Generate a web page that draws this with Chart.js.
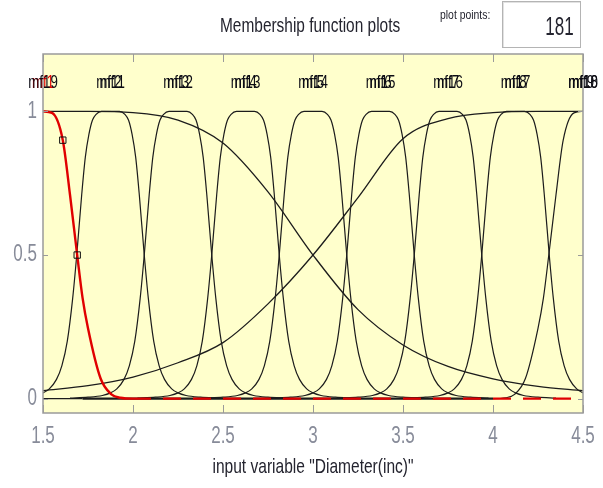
<!DOCTYPE html>
<html>
<head>
<meta charset="utf-8">
<script src="https://cdn.jsdelivr.net/npm/chart.js@4.4.1/dist/chart.umd.min.js"></script>
<style>
  html, body { margin: 0; padding: 0; background: #fff; }
  #wrap { position: relative; width: 603px; height: 488px; overflow: hidden; }
  #mfChart { position: absolute; left: 0; top: 0; }
  .hdr {
    position: absolute;
    font-family: 'Liberation Sans', Arial, sans-serif;
    color: #24242f;
    white-space: nowrap;
    transform-origin: left center;
  }
  /* the source picture is squeezed sideways, so the text is too */
  #title   { left: 220px; top: 12px; font-size: 21px; line-height: 26px; transform: scaleX(0.735); }
  #ppLabel { left: 440px; top: 7px;  font-size: 13px; line-height: 16px; transform: scaleX(0.8); }
  #ppBox {
    position: absolute; left: 502px; top: 1px; width: 79px; height: 47px; box-sizing: border-box;
    border: 1px solid #b4b4b4; box-shadow: inset 1px 1px 0 #e2e2e2; background: #fff;
  }
  #ppVal {
    right: 6px; top: 9px; font-size: 25px; line-height: 30px;
    transform-origin: right center; transform: scaleX(0.68);
  }
</style>
</head>
<body>
<div id="wrap">
  <canvas id="mfChart" width="603" height="488"></canvas>
  <div class="hdr" id="title">Membership function plots</div>
  <div class="hdr" id="ppLabel">plot points:</div>
  <div id="ppBox"><span class="hdr" id="ppVal">181</span></div>
</div>
<script>
/* ── axes ── */
const X_MIN = 1.5, X_MAX = 4.5;
const Y_MIN = -0.05, Y_MAX = 1.2;
const xTickValues = [1.5, 2, 2.5, 3, 3.5, 4, 4.5];
const xTickLabels = ['1.5', '2', '2.5', '3', '3.5', '4', '4.5'];
const yTickValues = [0, 0.5, 1];
const yTickLabels = ['0', '0.5', '1'];
const xTitle = 'input variable "Diameter(inc)"';

/* ── mf names written across the top (several sit on one spot) ── */
const mfLabelText = ['mf1', 'mf19', 'mf2', 'mf11', 'mf3', 'mf12', 'mf4', 'mf13', 'mf5', 'mf14',
                     'mf6', 'mf15', 'mf7', 'mf16', 'mf8', 'mf17', 'mf9', 'mf18', 'mf10'];
const mfLabelX    = [1.5, 1.5, 1.875, 1.875, 2.25, 2.25, 2.625, 2.625, 3, 3,
                     3.375, 3.375, 3.75, 3.75, 4.125, 4.125, 4.5, 4.5, 4.5];
const selectedMf  = 'mf1';

/* ── bell-shaped mfs: one profile, repeated at each centre ── */
const bellCenters = [1.875, 2.25, 2.625, 3, 3.375, 3.75, 4.125];
const bellDx = [-0.6, -0.5, -0.42, -0.375, -0.34, -0.3, -0.27, -0.24, -0.21, -0.1875, -0.16, -0.14,
                -0.12, -0.1, -0.08, -0.05, 0, 0.05, 0.08, 0.1, 0.12, 0.14, 0.16, 0.1875, 0.21, 0.24,
                0.27, 0.3, 0.34, 0.375, 0.42, 0.5, 0.6];
const bellMu = [0.002, 0.005, 0.011, 0.02, 0.034, 0.067, 0.115, 0.2, 0.35, 0.5, 0.71, 0.84,
                0.92, 0.97, 0.99, 1, 1, 1, 0.99, 0.97, 0.92, 0.84, 0.71, 0.5, 0.35, 0.2,
                0.115, 0.067, 0.034, 0.02, 0.011, 0.005, 0.002];

/* ── wide curves spanning the whole range ── */
const wideX     = [1.5, 1.75, 2, 2.25, 2.5, 2.75, 3, 3.25, 3.5, 3.75, 4, 4.25, 4.5];
const wideFall  = [1, 1, 0.996, 0.97, 0.89, 0.72, 0.5, 0.31, 0.187, 0.112, 0.069, 0.043, 0.028];
const wideRise  = [0.028, 0.045, 0.075, 0.125, 0.195, 0.33, 0.5, 0.7, 0.905, 0.975, 0.996, 1, 1];

/* ── selected z-shaped mf (red) and its s-shaped mirror ── */
const zX  = [1.5, 1.55, 1.61, 1.65, 1.69, 1.72, 1.75, 1.82, 1.88, 1.93, 2.0, 4.5];
const zMu = [1, 0.995, 0.9, 0.71, 0.5, 0.35, 0.245, 0.07, 0.015, 0.003, 0, 0];
const sX  = [1.5, 1.72, 4.0, 4.07, 4.12, 4.18, 4.25, 4.28, 4.31, 4.35, 4.39, 4.45, 4.5];
const sMu = [0, 0, 0, 0.003, 0.015, 0.07, 0.245, 0.35, 0.5, 0.71, 0.9, 0.995, 1];

/* ── handles of the selected mf ── */
const handleX = [1.61, 1.69];
const handleY = [0.9, 0.5];

const FONT = "'Liberation Sans', Arial, sans-serif";
const SQUEEZE = 0.74;
const LINE = '#1c1c1c';
const RED  = '#e00000';
const AXIS_GREY = '#9a9a9a';
const TICK_TEXT = '#878b99';
const TEXT = '#24242f';

const pts = (xs, ys) => xs.map((x, i) => ({ x, y: ys[i] }));
const isFlatZero = ctx => ctx.p0.parsed.y === 0 && ctx.p1.parsed.y === 0;

function buildDatasets() {
  const ds = [];

  ds.push({
    label: 'handles', type: 'scatter',
    data: pts(handleX, handleY),
    pointStyle: 'rect', pointRadius: 4.5, pointBorderWidth: 1,
    pointBorderColor: '#111', pointBackgroundColor: 'transparent',
    order: 0,
  });

  // selected mf on top; its zero tail shows through as red dashes
  ds.push({
    label: 'mf1',
    data: pts(zX, zMu),
    borderColor: RED, borderWidth: 2.4,
    cubicInterpolationMode: 'monotone',
    segment: { borderDash: ctx => isFlatZero(ctx) ? [18, 12] : undefined },
    order: 1,
  });

  bellCenters.forEach((c, k) => {
    ds.push({
      label: 'mf' + (k + 2),
      data: bellDx.map((d, i) => ({ x: c + d, y: bellMu[i] })),
      borderColor: LINE, borderWidth: 1.2,
      cubicInterpolationMode: 'monotone',
      order: 2,
    });
  });

  ds.push({
    label: 'mf19', data: pts(wideX, wideFall),
    borderColor: LINE, borderWidth: 1.3, cubicInterpolationMode: 'monotone', order: 3,
  });
  ds.push({
    label: 'mf10', data: pts(wideX, wideRise),
    borderColor: LINE, borderWidth: 1.3, cubicInterpolationMode: 'monotone', order: 3,
  });

  // s-shaped mf; its long zero run is where several mfs pile up, so draw it heavier
  ds.push({
    label: 'mf9', data: pts(sX, sMu),
    borderColor: LINE, borderWidth: 1.2,
    cubicInterpolationMode: 'monotone',
    segment: { borderWidth: ctx => isFlatZero(ctx) && ctx.p0.parsed.x >= 1.7 ? 2.4 : undefined },
    order: 4,
  });

  return ds;
}

function squeezedText(ctx, text, x, y, size, color, align) {
  ctx.save();
  ctx.font = size + 'px ' + FONT;
  ctx.fillStyle = color;
  ctx.textAlign = align;
  ctx.textBaseline = 'middle';
  ctx.translate(x, y);
  ctx.scale(SQUEEZE, 1);
  ctx.fillText(text, 0, 0);
  ctx.restore();
}

/* ── MATLAB-ish frame: yellow axes, grey box, inward ticks, labels ── */
const framePlugin = {
  id: 'frame',
  beforeDraw(chart) {
    const { ctx, chartArea: a } = chart;
    ctx.save();
    ctx.fillStyle = '#ffffcc';
    ctx.fillRect(a.left, a.top, a.right - a.left, a.bottom - a.top);
    ctx.restore();
  },
  afterDatasetsDraw(chart) {
    const { ctx, chartArea: a, scales: { x, y } } = chart;
    ctx.save();
    ctx.strokeStyle = AXIS_GREY;
    ctx.lineWidth = 1;
    ctx.beginPath();
    xTickValues.forEach(v => {
      const px = Math.round(x.getPixelForValue(v)) + 0.5;
      ctx.moveTo(px, a.bottom); ctx.lineTo(px, a.bottom - 8);
      ctx.moveTo(px, a.top);    ctx.lineTo(px, a.top + 8);
    });
    yTickValues.forEach(v => {
      const py = Math.round(y.getPixelForValue(v)) + 0.5;
      ctx.moveTo(a.left, py);  ctx.lineTo(a.left + 5, py);
      ctx.moveTo(a.right, py); ctx.lineTo(a.right - 5, py);
    });
    ctx.stroke();
    ctx.lineWidth = 1.5;
    ctx.strokeRect(a.left, a.top, a.right - a.left, a.bottom - a.top);
    ctx.restore();

    // tick labels, placed by the scales
    xTickValues.forEach((v, i) =>
      squeezedText(ctx, xTickLabels[i], x.getPixelForValue(v), a.bottom + 24, 23, TICK_TEXT, 'center'));
    yTickValues.forEach((v, i) =>
      squeezedText(ctx, yTickLabels[i], a.left - 6, y.getPixelForValue(v), 23, TICK_TEXT, 'right'));
    squeezedText(ctx, xTitle, (a.left + a.right) / 2, a.bottom + 54, 21, TEXT, 'center');

    // mf names across the top; the selected one in red, underneath
    mfLabelText.forEach((t, i) => {
      if (t === selectedMf)
        squeezedText(ctx, t, x.getPixelForValue(mfLabelX[i]), a.top + 29, 18, RED, 'center');
    });
    mfLabelText.forEach((t, i) => {
      if (t !== selectedMf)
        squeezedText(ctx, t, x.getPixelForValue(mfLabelX[i]), a.top + 29, 18, '#0c0c14', 'center');
    });
  },
};

new Chart(document.getElementById('mfChart').getContext('2d'), {
  type: 'line',
  data: { datasets: buildDatasets() },
  options: {
    responsive: false,
    animation: false,
    layout: { padding: { top: 54, right: 20, left: 0, bottom: 0 } },
    elements: { point: { radius: 0 }, line: { tension: 0 } },
    plugins: { legend: { display: false }, tooltip: { enabled: false } },
    scales: {
      x: {
        type: 'linear', min: X_MIN, max: X_MAX,
        afterFit: s => { s.height = 75; },
        grid: { display: false, drawTicks: false },
        border: { display: false },
        ticks: { display: false },
      },
      y: {
        type: 'linear', min: Y_MIN, max: Y_MAX,
        afterFit: s => { s.width = 43; },
        grid: { display: false, drawTicks: false },
        border: { display: false },
        ticks: { display: false },
      },
    },
  },
  plugins: [framePlugin],
});
</script>
</body>
</html>
